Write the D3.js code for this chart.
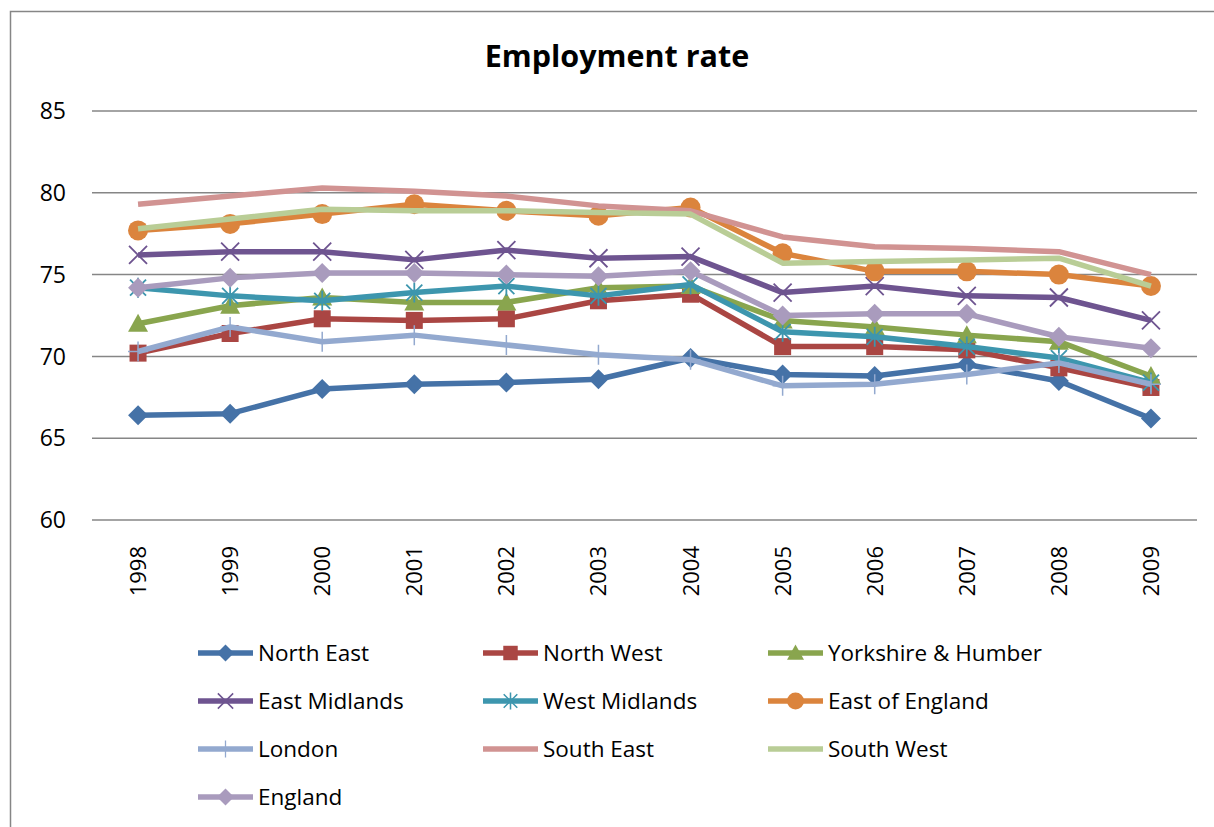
<!DOCTYPE html>
<html>
<head>
  <meta charset="utf-8">
  <title>Employment rate</title>
  <script src="https://d3js.org/d3.v7.min.js"></script>
  <style>
    body { margin: 0; overflow: hidden; background: #fff; }
    svg { display: block; }
    text { font-family: "Open Sans", "Noto Sans", sans-serif; fill: #000; }
  </style>
</head>
<body>
  <svg width="1214" height="827"></svg>

  <script>
    const years = ["1998", "1999", "2000", "2001", "2002", "2003", "2004", "2005", "2006", "2007", "2008", "2009"];
    const yTicks = [60, 65, 70, 75, 80, 85];

    const northEast  = [66.4, 66.5, 68.0, 68.3, 68.4, 68.6, 69.9, 68.9, 68.8, 69.5, 68.5, 66.2];
    const northWest  = [70.2, 71.4, 72.3, 72.2, 72.3, 73.4, 73.8, 70.6, 70.6, 70.4, 69.3, 68.1];
    const yorkshire  = [72.0, 73.1, 73.6, 73.3, 73.3, 74.2, 74.3, 72.2, 71.8, 71.3, 70.9, 68.8];
    const eastMid    = [76.2, 76.4, 76.4, 75.9, 76.5, 76.0, 76.1, 73.9, 74.3, 73.7, 73.6, 72.2];
    const westMid    = [74.2, 73.7, 73.4, 73.9, 74.3, 73.7, 74.4, 71.5, 71.2, 70.6, 69.9, 68.4];
    const eastEng    = [77.7, 78.1, 78.7, 79.3, 78.9, 78.6, 79.1, 76.3, 75.2, 75.2, 75.0, 74.3];
    const london     = [70.3, 71.8, 70.9, 71.3, 70.7, 70.1, 69.8, 68.2, 68.3, 68.9, 69.6, 68.3];
    const southEast  = [79.3, 79.8, 80.3, 80.1, 79.8, 79.2, 78.9, 77.3, 76.7, 76.6, 76.4, 75.0];
    const southWest  = [77.8, 78.4, 79.0, 78.9, 78.9, 78.8, 78.7, 75.7, 75.8, 75.9, 76.0, 74.3];
    const england    = [74.2, 74.8, 75.1, 75.1, 75.0, 74.9, 75.2, 72.5, 72.6, 72.6, 71.2, 70.5];

    const series = [
      { name: "North East", values: northEast, color: "#4572A7", marker: "diamond" },
      { name: "North West", values: northWest, color: "#AA4643", marker: "square" },
      { name: "Yorkshire & Humber", values: yorkshire, color: "#89A54E", marker: "triangle" },
      { name: "East Midlands", values: eastMid, color: "#6E5490", marker: "x" },
      { name: "West Midlands", values: westMid, color: "#3D96AE", marker: "star" },
      { name: "East of England", values: eastEng, color: "#DB843D", marker: "circle" },
      { name: "London", values: london, color: "#93A9CF", marker: "plus" },
      { name: "South East", values: southEast, color: "#D19392", marker: "none" },
      { name: "South West", values: southWest, color: "#B9CD96", marker: "none" },
      { name: "England", values: england, color: "#A99BBD", marker: "diamond" }
    ];

    const svg = d3.select("svg");

    // chart border (right/bottom edges fall outside the picture)
    svg.append("rect")
      .attr("x", 10.5).attr("y", 11.5)
      .attr("width", 1240).attr("height", 900)
      .attr("fill", "none").attr("stroke", "#868686").attr("stroke-width", 1.5);

    const x = d3.scaleBand().domain(years).range([92, 1197]);
    const y = d3.scaleLinear().domain([60, 85]).range([520, 111]);

    svg.append("text")
      .attr("x", 617).attr("y", 67)
      .attr("text-anchor", "middle")
      .attr("font-size", 30.5).attr("font-weight", "bold")
      .text("Employment rate");

    // gridlines
    svg.append("g").selectAll("line")
      .data(yTicks)
      .join("line")
      .attr("x1", 92).attr("x2", 1197)
      .attr("y1", d => y(d)).attr("y2", d => y(d))
      .attr("stroke", "#868686").attr("stroke-width", 1.5);

    svg.append("g").selectAll("text")
      .data(yTicks)
      .join("text")
      .attr("x", 66).attr("y", d => y(d))
      .attr("dy", "0.36em")
      .attr("text-anchor", "end")
      .attr("font-size", 23)
      .text(d => d);

    svg.append("g").selectAll("text")
      .data(years)
      .join("text")
      .attr("transform", d => `translate(${x(d) + x.bandwidth() / 2 + 8},546) rotate(-90)`)
      .attr("text-anchor", "end")
      .attr("font-size", 22)
      .text(d => d);

    function drawMarker(sel, type, color) {
      if (type === "diamond") {
        sel.append("path").attr("d", "M0,-10L10,0L0,10L-10,0Z").attr("fill", color);
      } else if (type === "square") {
        sel.append("rect").attr("x", -8.5).attr("y", -8.5).attr("width", 17).attr("height", 17).attr("fill", color);
      } else if (type === "triangle") {
        sel.append("path").attr("d", "M0,-10L10,8L-10,8Z").attr("fill", color);
      } else if (type === "circle") {
        sel.append("circle").attr("r", 10).attr("fill", color);
      } else if (type === "x") {
        sel.append("path").attr("d", "M-9,-9L9,9M-9,9L9,-9")
          .attr("stroke", color).attr("stroke-width", 1.8).attr("fill", "none");
      } else if (type === "star") {
        sel.append("path").attr("d", "M-8,-8L8,8M-8,8L8,-8M0,-10L0,10")
          .attr("stroke", color).attr("stroke-width", 1.8).attr("fill", "none");
      } else if (type === "plus") {
        sel.append("path").attr("d", "M0,-10L0,10M-10,0L10,0")
          .attr("stroke", color).attr("stroke-width", 1.5).attr("fill", "none");
      }
    }

    const line = d3.line()
      .x((d, i) => x(years[i]) + x.bandwidth() / 2)
      .y(d => y(d));

    series.forEach(s => {
      const g = svg.append("g");
      g.append("path")
        .attr("d", line(s.values))
        .attr("fill", "none")
        .attr("stroke", s.color)
        .attr("stroke-width", 5.5)
        .attr("stroke-linejoin", "round");
      g.selectAll("g.pt")
        .data(s.values)
        .join("g")
        .attr("class", "pt")
        .attr("transform", (d, i) => `translate(${x(years[i]) + x.bandwidth() / 2},${y(d)})`)
        .each(function () { drawMarker(d3.select(this), s.marker, s.color); });
    });

    // legend
    const legend = svg.append("g");
    series.forEach((s, i) => {
      const col = i % 3, row = Math.floor(i / 3);
      const lx = 198 + col * 285, ly = 653 + row * 48;
      const item = legend.append("g").attr("transform", `translate(${lx},${ly})`);
      item.append("line")
        .attr("x1", 0).attr("x2", 55)
        .attr("stroke", s.color).attr("stroke-width", 5.5);
      const m = item.append("g").attr("transform", "translate(27.5,0) scale(0.85)");
      drawMarker(m, s.marker, s.color);
      item.append("text")
        .attr("x", 60).attr("dy", "0.36em")
        .attr("font-size", 22.5)
        .text(s.name);
    });
  </script>
</body>
</html>
